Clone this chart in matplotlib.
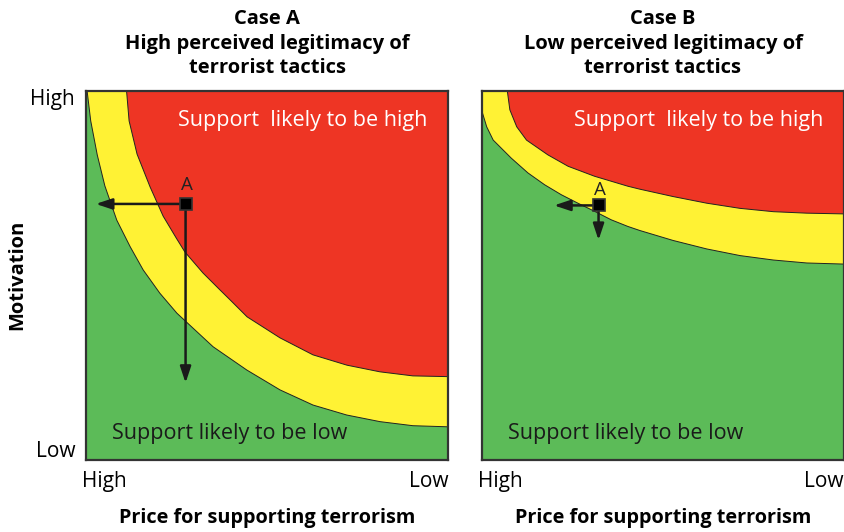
import matplotlib.pyplot as plt
from matplotlib.patches import Polygon

# boundary curves in panel fractions (x: 0 = high price, 1 = low price; y: 0 = low, 1 = high motivation)
a_inner_x = [0.003, 0.013, 0.031, 0.052, 0.085, 0.122, 0.158, 0.204, 0.251, 0.351, 0.444,
             0.536, 0.627, 0.720, 0.812, 0.903, 1.0]
a_inner_y = [1.0, 0.919, 0.827, 0.743, 0.650, 0.578, 0.515, 0.452, 0.398, 0.307, 0.244,
             0.190, 0.149, 0.122, 0.104, 0.093, 0.090]
a_outer_x = [0.112, 0.119, 0.141, 0.177, 0.213, 0.249, 0.273, 0.323, 0.370, 0.398, 0.445,
             0.536, 0.627, 0.721, 0.812, 0.903, 1.0]
a_outer_y = [1.0, 0.919, 0.829, 0.740, 0.661, 0.602, 0.564, 0.507, 0.461, 0.434, 0.388,
             0.331, 0.285, 0.257, 0.239, 0.228, 0.226]

b_inner_x = [0.0, 0.013, 0.031, 0.081, 0.127, 0.173, 0.219, 0.265, 0.311, 0.357, 0.403,
             0.436, 0.528, 0.621, 0.713, 0.805, 0.897, 1.0]
b_inner_y = [0.945, 0.903, 0.867, 0.818, 0.778, 0.746, 0.719, 0.696, 0.674, 0.651, 0.633,
             0.622, 0.595, 0.572, 0.554, 0.542, 0.534, 0.531]
b_outer_x = [0.070, 0.077, 0.096, 0.123, 0.182, 0.238, 0.311, 0.403, 0.436, 0.528, 0.621,
             0.713, 0.805, 0.897, 1.0]
b_outer_y = [1.0, 0.949, 0.903, 0.867, 0.827, 0.796, 0.769, 0.742, 0.734, 0.714, 0.696,
             0.682, 0.673, 0.669, 0.667]

# point A and where its arrows end
a_point = (0.275, 0.694)
a_arrow_left = 0.027
a_arrow_down = 0.209
b_point = (0.322, 0.690)
b_arrow_left = 0.199
b_arrow_down = 0.596

titles = ["Case A\nHigh perceived legitimacy of\nterrorist tactics",
          "Case B\nLow perceived legitimacy of\nterrorist tactics"]
label_offsets = [0.052, 0.043]

GREEN = "#5cbb58"
YELLOW = "#fff234"
RED = "#ee3524"

plt.rcParams['font.family'] = ['Open Sans', 'DejaVu Sans']

fig = plt.figure(figsize=(8.45, 5.32), dpi=100)
ax_a = fig.add_axes([0.1018, 0.1353, 0.4284, 0.6936])
ax_b = fig.add_axes([0.5704, 0.1353, 0.4284, 0.6936])

panels = [
    (ax_a, a_inner_x, a_inner_y, a_outer_x, a_outer_y, a_point, a_arrow_left, a_arrow_down),
    (ax_b, b_inner_x, b_inner_y, b_outer_x, b_outer_y, b_point, b_arrow_left, b_arrow_down),
]

for i, (ax, ix, iy, ox, oy, pt, left, down) in enumerate(panels):
    ax.set_xlim(0, 1)
    ax.set_ylim(0, 1)
    ax.set_facecolor(GREEN)

    yellow = list(zip(ix, iy)) + [(1, 1), (0, 1)]
    ax.add_patch(Polygon(yellow, closed=True, facecolor=YELLOW, edgecolor="none", zorder=1))
    red = list(zip(ox, oy)) + [(1, 1)]
    ax.add_patch(Polygon(red, closed=True, facecolor=RED, edgecolor="none", zorder=2))
    ax.plot(ix, iy, color="#222222", lw=0.7, zorder=3)
    ax.plot(ox, oy, color="#222222", lw=0.7, zorder=3)

    # arrows from point A
    style = "-|>,head_length=0.75,head_width=0.25"
    ax.annotate("", xy=(left, pt[1]), xytext=pt,
                arrowprops=dict(arrowstyle=style, color="#1a1a1a", lw=1.8,
                                mutation_scale=13, shrinkA=0, shrinkB=0), zorder=4)
    ax.annotate("", xy=(pt[0], down), xytext=pt,
                arrowprops=dict(arrowstyle=style, color="#1a1a1a", lw=1.8,
                                mutation_scale=13, shrinkA=0, shrinkB=0), zorder=4)
    ax.plot(pt[0], pt[1], marker="s", markersize=9, color="black",
            markeredgecolor="#333333", markeredgewidth=1.2, zorder=5)
    ax.text(pt[0] + 0.005, pt[1] + label_offsets[i], "A", fontsize=13.5, color="#222222",
            ha="center", va="center", zorder=5)

    ax.text(0.942, 0.921, "Support  likely to be high", color="white", fontsize=15.5,
            ha="right", va="center", zorder=5)
    ax.text(0.072, 0.072, "Support likely to be low", color="#1a1a1a", fontsize=15.5,
            ha="left", va="center", zorder=5)

    ax.set_xticks([])
    ax.set_yticks([])
    for s in ax.spines.values():
        s.set_color("#333333")
        s.set_linewidth(1.6)
        s.set_zorder(6)

    ax.text(-0.01, -0.058, "High", transform=ax.transAxes, fontsize=15, ha="left", va="center")
    ax.text(1.0, -0.058, "Low", transform=ax.transAxes, fontsize=15, ha="right", va="center")
    ax.text(0.5, -0.157, "Price for supporting terrorism", transform=ax.transAxes,
            fontsize=14.3, fontweight="bold", ha="center", va="center")
    ax.text(0.5, 1.035, titles[i], transform=ax.transAxes, fontsize=14.5,
            fontweight="bold", ha="center", va="bottom", linespacing=1.3)

ax_a.text(-0.03, 0.976, "High", transform=ax_a.transAxes, fontsize=15, ha="right", va="center")
ax_a.text(-0.03, 0.022, "Low", transform=ax_a.transAxes, fontsize=15, ha="right", va="center")
fig.text(0.02, 0.483, "Motivation", rotation=90, fontsize=14.5, fontweight="bold",
         ha="center", va="center")

fig.savefig("out.png", dpi=100)
